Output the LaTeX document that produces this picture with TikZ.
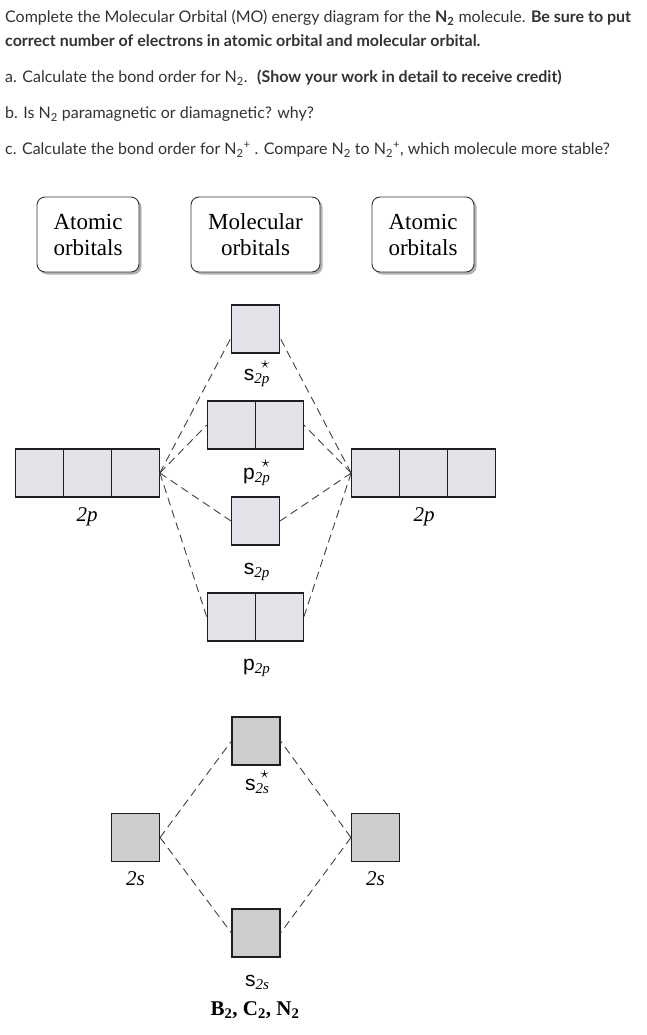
\documentclass[tikz,border=0pt]{standalone}
\usepackage{fontspec}
\setmainfont{Liberation Serif}
\newfontfamily\lato{Lato}
\newfontfamily\lsans{Liberation Sans}
\usetikzlibrary{shadows}
\definecolor{orbfill}{HTML}{E4E2E8}
\definecolor{sfill}{HTML}{CDCDCD}
\definecolor{edge}{HTML}{1E1E1E}
\definecolor{qgray}{HTML}{333333}
\newcommand{\moname}[3]{{\lsans #1}\raisebox{-3pt}{\fontsize{15}{15}\selectfont\textit{#2}}\llap{\raisebox{11.5pt}{\fontsize{17}{17}\selectfont#3}\hspace{0pt}}}
\begin{document}
\begin{tikzpicture}[x=1pt,y=-1pt,
 orb/.style={draw=edge, line width=1.1pt, fill=orbfill, minimum width=48pt, minimum height=48pt, inner sep=0pt},
 sorb/.style={orb, fill=sfill},
 conn/.style={draw=edge!85, line width=0.9pt, dash pattern=on 8pt off 5pt},
 hdr/.style={draw=black!80, line width=0.9pt, rounded corners=8pt, fill=white, align=center,
   font=\fontsize{23}{26}\selectfont, inner sep=0pt, minimum height=75pt,
   drop shadow={shadow xshift=2.5pt, shadow yshift=-2.5pt, opacity=0.3, fill=black}},
 lbl/.style={font=\fontsize{21}{24}\selectfont, anchor=base, inner sep=0pt},
 qtext/.style={anchor=base west, inner sep=0pt, font=\lato\fontsize{16}{18}\selectfont, text=qgray}]
\useasboundingbox[fill=white] (0,0) rectangle (646,1035);

% question text
\node[qtext] (q1) at (5,23) {Complete the Molecular Orbital (MO) energy diagram for the \textbf{N\textsubscript{2}} molecule. \textbf{Be sure to put}};
\node[qtext] (q2) at (5,47) {\textbf{correct number of electrons in atomic orbital and molecular orbital.}};
\node[qtext] (qa) at (5,83) {a. Calculate the bond order for N\textsubscript{2}. \ \textbf{(Show your work in detail to receive credit)}};
\node[qtext] (qb) at (5,119) {b. Is N\textsubscript{2} paramagnetic or diamagnetic? why?};
\node[qtext] (qc) at (5,155) {c. Calculate the bond order for N\textsubscript{2}\textsuperscript{+} . Compare N\textsubscript{2} to N\textsubscript{2}\textsuperscript{+}, which molecule more stable?};

% headers
\node[hdr, minimum width=102pt] (h1) at (88,234.5) {Atomic\\orbitals};
\node[hdr, minimum width=129pt] (h2) at (255.5,234.5) {Molecular\\orbitals};
\node[hdr, minimum width=102pt] (h3) at (423,234.5) {Atomic\\orbitals};

% left 2p
\node[orb] (l2pa) at (39.3,473) {};
\node[orb] (l2pb) at (87.3,473) {};
\node[orb] (l2pc) at (135.3,473) {};
\node[lbl] (l2plbl) at (87,521) {\textit{2p}};
% right 2p
\node[orb] (r2pa) at (375.7,473) {};
\node[orb] (r2pb) at (423.7,473) {};
\node[orb] (r2pc) at (471.7,473) {};
\node[lbl] (r2plbl) at (424,521) {\textit{2p}};

% MOs 2p
\node[orb] (s2ps) at (255.5,329) {};
\node[lbl] (s2pslbl) at (256.5,380) {\moname{s}{2p}{$\star$}};
\node[orb] (p2psL) at (231.3,425) {};
\node[orb] (p2psR) at (279.3,425) {};
\node[lbl] (p2pslbl) at (256.5,479) {\moname{p}{2p}{$\star$}};
\node[orb] (s2p) at (255.5,521) {};
\node[lbl] (s2plbl) at (256.5,574) {\moname{s}{2p}{}};
\node[orb] (p2pL) at (231.3,617) {};
\node[orb] (p2pR) at (279.3,617) {};
\node[lbl] (p2plbl) at (256.5,670) {\moname{p}{2p}{}};

% 2s
\node[sorb] (l2s) at (135.5,837.5) {};
\node[lbl] (l2slbl) at (135.5,885) {\textit{2s}};
\node[sorb] (r2s) at (375.5,837.5) {};
\node[lbl] (r2slbl) at (375.5,885) {\textit{2s}};
\node[sorb] (s2ss) at (256,741) {};
\node[lbl] (s2sslbl) at (257,790) {\moname{s}{2s}{$\star$}};
\node[sorb] (s2s) at (256,933) {};
\node[lbl] (s2slbl) at (257,986) {\moname{s}{2s}{}};
\node[lbl] (mol) at (255,1015) {\textbf{B\textsubscript{2}, C\textsubscript{2}, N\textsubscript{2}}};

% connectors 2p
\draw[conn] (l2pc.east) -- (s2ps.200);
\draw[conn] (l2pc.east) -- (p2psL.west);
\draw[conn] (l2pc.east) -- (s2p.west);
\draw[conn] (l2pc.east) -- (p2pL.west);
\draw[conn] (r2pa.west) -- (s2ps.-20);
\draw[conn] (r2pa.west) -- (p2psR.east);
\draw[conn] (r2pa.west) -- (s2p.east);
\draw[conn] (r2pa.west) -- (p2pR.east);
% connectors 2s
\draw[conn] (l2s.east) -- (s2ss.west);
\draw[conn] (l2s.east) -- (s2s.west);
\draw[conn] (r2s.west) -- (s2ss.east);
\draw[conn] (r2s.west) -- (s2s.east);
\end{tikzpicture}
\end{document}
